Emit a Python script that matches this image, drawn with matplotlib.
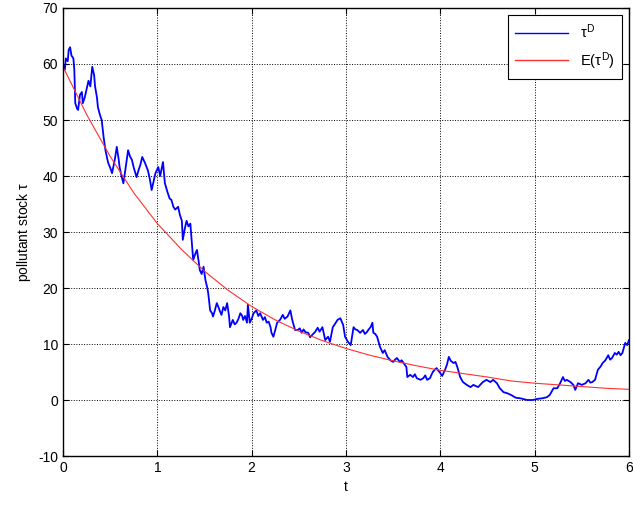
import matplotlib
matplotlib.use('Agg')
import matplotlib.pyplot as plt

# 随机路径 tau^D 的读数 (t, tau)
t_path = [0.00, 0.02, 0.03, 0.05, 0.06, 0.075, 0.09, 0.11, 0.12, 0.13, 0.15, 0.16, 0.18, 0.20,
          0.21, 0.23, 0.25, 0.27, 0.29, 0.31, 0.33, 0.34, 0.36, 0.37, 0.39, 0.41, 0.43, 0.45,
          0.47, 0.48, 0.50, 0.52, 0.55, 0.57, 0.59, 0.60, 0.62, 0.64, 0.66, 0.69, 0.71, 0.73,
          0.75, 0.78, 0.80, 0.82, 0.84, 0.87, 0.90, 0.92, 0.94, 0.96, 0.98, 1.01, 1.03, 1.06,
          1.08, 1.11, 1.13, 1.15, 1.17, 1.19, 1.22, 1.24, 1.26, 1.27, 1.29, 1.31, 1.33, 1.35,
          1.37, 1.38, 1.40, 1.42, 1.44, 1.45, 1.47, 1.49, 1.51, 1.53, 1.54, 1.56, 1.58, 1.59,
          1.61, 1.63, 1.65, 1.66, 1.68, 1.70, 1.72, 1.74, 1.76, 1.77, 1.80, 1.82, 1.84, 1.86,
          1.88, 1.90, 1.91, 1.93, 1.95, 1.96, 1.98, 2.00, 2.02, 2.05, 2.07, 2.09, 2.12, 2.14,
          2.16, 2.18, 2.20, 2.21, 2.23, 2.25, 2.27, 2.30, 2.33, 2.35, 2.38, 2.41, 2.43, 2.46,
          2.49, 2.51, 2.53, 2.55, 2.57, 2.60, 2.62, 2.64, 2.67, 2.70, 2.72, 2.75, 2.77, 2.78,
          2.81, 2.83, 2.86, 2.88, 2.91, 2.94, 2.97, 2.99, 3.02, 3.05, 3.08, 3.10, 3.12, 3.15,
          3.18, 3.20, 3.22, 3.24, 3.26, 3.28, 3.29, 3.31, 3.33, 3.36, 3.39, 3.41, 3.44, 3.47,
          3.50, 3.52, 3.54, 3.57, 3.59, 3.61, 3.64, 3.65, 3.68, 3.71, 3.73, 3.75, 3.79, 3.82,
          3.84, 3.86, 3.89, 3.92, 3.94, 3.96, 3.98, 4.00, 4.02, 4.05, 4.07, 4.09, 4.11, 4.14,
          4.16, 4.18, 4.21, 4.24, 4.28, 4.32, 4.35, 4.40, 4.45, 4.49, 4.53, 4.56, 4.60, 4.63,
          4.67, 4.71, 4.75, 4.80, 4.85, 4.92, 4.98, 5.03, 5.08, 5.13, 5.16, 5.20, 5.24, 5.27,
          5.30, 5.32, 5.34, 5.38, 5.41, 5.43, 5.46, 5.50, 5.54, 5.57, 5.59, 5.61, 5.64, 5.67,
          5.70, 5.72, 5.75, 5.78, 5.80, 5.82, 5.85, 5.87, 5.89, 5.91, 5.93, 5.96, 5.98, 6.00]
tau_path = [60.0, 59.0, 61.0, 60.5, 62.5, 63.0, 61.5, 61.0, 59.0, 53.0, 52.0, 51.8, 54.5, 55.0,
            53.0, 54.0, 55.5, 57.0, 56.0, 59.5, 58.0, 56.0, 54.0, 52.3, 51.0, 50.0, 47.0, 44.6,
            43.0, 42.3, 41.5, 40.5, 43.0, 45.2, 43.0, 41.6, 40.0, 38.7, 41.0, 44.6, 43.5, 42.9,
            41.5, 39.8, 41.0, 42.0, 43.4, 42.3, 41.0, 39.5, 37.5, 39.0, 40.5, 41.6, 40.0, 42.5,
            38.7, 37.0, 36.0, 35.7, 34.5, 34.0, 34.5, 33.0, 32.0, 28.6, 30.5, 32.0, 31.0, 31.5,
            27.3, 25.0, 26.0, 26.8, 24.5, 23.2, 22.5, 23.8, 21.4, 20.0, 19.0, 16.0, 15.5, 14.9,
            16.0, 17.3, 16.5, 16.0, 15.2, 16.6, 16.0, 17.3, 15.0, 13.0, 14.3, 13.5, 13.8, 14.5,
            15.5, 15.0, 14.3, 15.0, 13.8, 17.0, 13.8, 14.5, 15.5, 16.0, 15.0, 15.5, 14.3, 14.8,
            13.8, 14.0, 13.0, 12.0, 11.3, 12.5, 13.8, 14.3, 15.2, 14.5, 14.9, 16.0, 14.3, 12.5,
            12.5, 12.8, 12.0, 12.6, 12.1, 12.0, 11.2, 11.6, 12.1, 12.9, 12.2, 13.0, 11.5, 10.7,
            11.3, 10.4, 13.0, 13.5, 14.3, 14.6, 13.4, 11.3, 10.4, 9.8, 13.0, 12.6, 12.5, 12.0,
            12.5, 11.8, 12.1, 12.6, 13.0, 13.8, 12.0, 11.8, 11.3, 9.5, 8.4, 8.9, 7.7, 7.1,
            6.8, 7.2, 7.5, 6.8, 7.1, 6.6, 5.9, 4.1, 4.5, 4.1, 4.6, 3.9, 3.6, 3.9,
            4.4, 3.6, 3.9, 5.0, 5.4, 5.7, 5.2, 4.8, 4.3, 5.4, 6.3, 7.7, 7.0, 6.6,
            6.8, 5.9, 4.1, 3.2, 2.7, 2.3, 2.7, 2.3, 3.2, 3.6, 3.2, 3.6, 3.0, 2.1,
            1.4, 1.2, 0.9, 0.4, 0.3, 0.0, 0.0, 0.2, 0.3, 0.5, 0.9, 2.1, 2.1, 3.0,
            4.1, 3.4, 3.6, 3.2, 2.7, 1.8, 3.0, 2.7, 3.0, 3.6, 3.1, 3.2, 3.6, 5.4,
            6.0, 6.6, 7.1, 8.0, 7.2, 7.5, 8.4, 8.1, 8.6, 8.0, 8.4, 10.2, 9.8, 10.7]

# 期望 E(tau^D) 的读数
t_mean = [0.00, 0.25, 0.50, 0.75, 1.00, 1.25, 1.50, 1.75, 2.00, 2.25, 2.50, 2.75, 3.00,
          3.25, 3.50, 3.75, 4.00, 4.25, 4.50, 4.75, 5.00, 5.25, 5.50, 5.75, 6.00]
tau_mean = [59.5, 51.0, 43.5, 37.0, 31.5, 27.0, 23.0, 19.6, 16.7, 14.3, 12.3, 10.6, 9.2,
            8.0, 7.0, 6.1, 5.3, 4.7, 4.1, 3.4, 3.0, 2.7, 2.4, 2.1, 1.9]

x_ticks = [0, 1, 2, 3, 4, 5, 6]
y_ticks = [-10, 0, 10, 20, 30, 40, 50, 60, 70]


def main():
    plt.rcParams['font.family'] = ['Liberation Sans', 'DejaVu Sans']
    plt.rcParams['font.size'] = 10
    plt.rcParams['axes.unicode_minus'] = False
    plt.rcParams['mathtext.fontset'] = 'custom'
    plt.rcParams['mathtext.rm'] = 'Liberation Sans'
    plt.rcParams['mathtext.it'] = 'Liberation Sans'

    fig = plt.figure(figsize=(6.33, 5.05), dpi=100)
    ax = fig.add_axes([63 / 633, 1 - 456 / 505, 566 / 633, 448 / 505])

    ax.plot(t_path, tau_path, color='blue', linewidth=1.3, label=r'$\tau^{\mathrm{D}}$')
    ax.plot(t_mean, tau_mean, color='#ff3030', linewidth=0.8,
            label=r'$\mathrm{E(}\tau^{\mathrm{D}}\mathrm{)}$')

    ax.set_xlim(0, 6)
    ax.set_ylim(-10, 70)
    ax.set_xticks(x_ticks)
    ax.set_yticks(y_ticks)
    ax.tick_params(direction='in', top=True, right=True, length=4, labelsize=10)
    ax.grid(True, color='black', linestyle=':', linewidth=0.7)
    for s in ax.spines.values():
        s.set_linewidth(1.0)

    ax.set_xlabel('t', fontsize=10)
    ax.set_ylabel(r'pollutant stock $\tau$', fontsize=10)

    leg = ax.legend(loc='upper right', handlelength=3.6, fancybox=False, framealpha=1,
                    edgecolor='black', fontsize=10.5, borderpad=0.5, labelspacing=0.6)
    leg.get_frame().set_linewidth(0.8)
    for line in leg.get_lines():
        line.set_linewidth(1.0)

    fig.savefig('out.png', dpi=100)


if __name__ == '__main__':
    main()
